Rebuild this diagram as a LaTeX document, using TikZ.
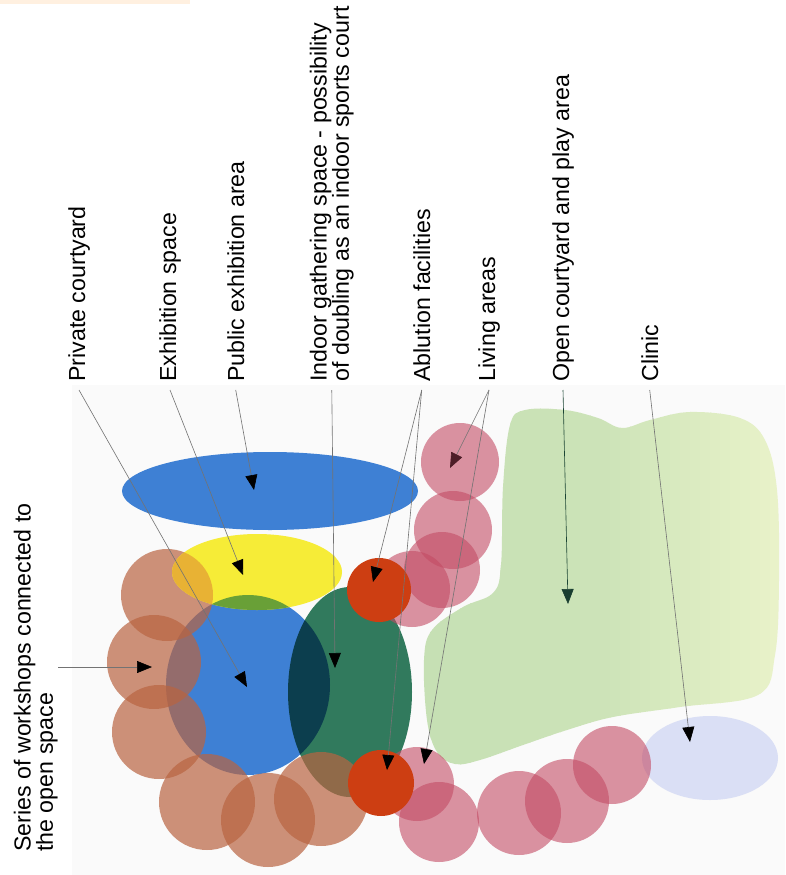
\documentclass[tikz,border=0pt]{standalone}
\usepackage{fontspec}
\setmainfont{Liberation Sans}
\usepackage{tikz}
\usetikzlibrary{positioning,arrows.meta,calc}
\usepackage{xcolor}

\definecolor{zoneblue}{RGB}{62,128,212}
\definecolor{zoneyellow}{RGB}{246,236,55}
\definecolor{zonelens}{RGB}{105,160,55}
\definecolor{zoneamber}{RGB}{232,178,52}
\definecolor{zonegreen}{RGB}{50,125,95}
\definecolor{zonebrown}{RGB}{185,100,65}
\definecolor{zonepink}{RGB}{195,75,100}
\definecolor{zoneorange}{RGB}{205,62,18}
\definecolor{zoneclinic}{RGB}{218,223,245}
\definecolor{courtleft}{RGB}{198,224,180}
\definecolor{courtright}{RGB}{234,243,202}

\begin{document}
\begin{tikzpicture}[
    x=0.02cm, y=-0.02cm,
    font=\fontsize{13.2}{12.6}\selectfont,
    tag/.style={rotate=90, inner xsep=0.16cm, inner ysep=0pt, align=left},
    lead/.style={draw=black!55, line width=0.35pt, -{Triangle[length=3mm,width=2.4mm,black]}},
    workshop/.style={fill=zonebrown, fill opacity=0.7},
    living/.style={fill=zonepink, fill opacity=0.6},
    ablution/.style={fill=zoneorange}
]
    \useasboundingbox (0,0) rectangle (785,875);

    % scanned page tint and the strip at the top
    \fill[black!2] (72,385) rectangle (785,875);
    \fill[orange!12] (0,0) rectangle (190,4);

    % Open courtyard: free shape, green fading to yellow (strips)
    \begin{scope}
        \clip plot[smooth cycle, tension=0.6] coordinates {
            (525,410) (565,410) (598,418) (622,428) (650,420) (690,412) (740,418) (765,440)
            (777,490) (779,580) (775,655) (758,695) (680,707) (613,717) (567,730) (523,745)
            (480,760) (455,764) (437,752) (427,720) (424,660) (432,630) (463,607) (493,593)
            (501,565) (503,487) (510,425)};
        \foreach \k in {0,...,36} {
            \pgfmathtruncatemacro\mix{\k<18 ? 100 - \k : 82 - (\k-18)*82/18}
            \fill[courtleft!\mix!courtright] ({420+\k*10},400) rectangle ({431+\k*10},780);
        }
    \end{scope}

    % Clinic
    \fill[zoneclinic] (710,758) ellipse [x radius=68, y radius=42];

    % Public exhibition area and private courtyard
    \fill[zoneblue] (270,491) ellipse [x radius=148, y radius=39];
    \fill[zoneblue] (248,685) ellipse [x radius=82, y radius=90];

    % Indoor gathering space
    \fill[zonegreen, blend mode=multiply] (350,692) ellipse [x radius=62, y radius=105];

    % Workshops round the courtyard
    \fill[workshop] (167,595) circle [radius=46];
    \fill[workshop] (154,662) circle [radius=47];
    \fill[workshop] (159,732) circle [radius=47];
    \fill[workshop] (207,802) circle [radius=48];
    \fill[workshop] (268,820) circle [radius=47];
    \fill[workshop] (321,799) circle [radius=47];

    % Exhibition space, with its overlaps
    \fill[zoneyellow] (257,572) ellipse [x radius=85, y radius=38];
    \begin{scope}
        \clip (248,685) ellipse [x radius=82, y radius=90];
        \fill[zonelens] (257,572) ellipse [x radius=85, y radius=38];
    \end{scope}
    \begin{scope}
        \clip (167,595) circle [radius=46];
        \fill[zoneamber] (257,572) ellipse [x radius=85, y radius=38];
    \end{scope}

    % Living areas
    \fill[living] (460,462) circle [radius=39];
    \fill[living] (453,530) circle [radius=39];
    \fill[living] (442,570) circle [radius=38];
    \fill[living] (412,589) circle [radius=38];
    \fill[living] (417,784) circle [radius=37];
    \fill[living] (439,822) circle [radius=40];
    \fill[living] (519,813) circle [radius=42];
    \fill[living] (567,801) circle [radius=42];
    \fill[living] (612,765) circle [radius=39];

    % Ablution facilities
    \fill[ablution] (379,590) circle [radius=32];
    \fill[ablution] (381,783) circle [radius=33];

    % Arrow targets
    \coordinate (wkT) at (152,667);
    \coordinate (pcT) at (247,687);
    \coordinate (exT) at (243,575);
    \coordinate (peT) at (254,490);
    \coordinate (igT) at (335,668);
    \coordinate (abT1) at (373,582);
    \coordinate (abT2) at (387,770);
    \coordinate (lvT1) at (450,468);
    \coordinate (lvT2) at (424,764);
    \coordinate (ocT) at (568,604);
    \coordinate (clT) at (690,742);

    % Labels
    \node[tag, anchor=base west] (pc) at (85,390) {Private courtyard};
    \node[tag, anchor=base west] (ex) at (176,390) {Exhibition space};
    \node[tag, anchor=base west] (pe) at (244,390) {Public exhibition area};
    \node[tag, anchor=south west] (ig) at (354,390) {Indoor gathering space - possibility\\of doubling as an indoor sports court};
    \node[tag, anchor=base west] (ab) at (430,390) {Ablution facilities};
    \node[tag, anchor=base west] (lv) at (495,390) {Living areas};
    \node[tag, anchor=base west] (oc) at (569,390) {Open courtyard and play area};
    \node[tag, anchor=base west] (cl) at (658,390) {Clinic};
    \node[tag, anchor=south west] (ws) at (58,860) {Series of workshops connected to\\the open space};

    % Leaders
    \draw[lead] (ws.south |- wkT) -- (wkT);
    \draw[lead] (pc.west) -- (pcT);
    \draw[lead] (ex.west) -- (exT);
    \draw[lead] (pe.west) -- (peT);
    \draw[lead] (ig.west) -- (igT);
    \draw[lead] (ab.west) -- (abT1);
    \draw[lead] (ab.west) -- (abT2);
    \draw[lead, -{Triangle[length=3mm,width=2.4mm,black!60!zonepink]}] (lv.west) -- (lvT1);
    \draw[lead] (lv.west) -- (lvT2);
    \draw[lead, draw=black!45!zonegreen, -{Triangle[length=3mm,width=2.4mm,black!50!zonegreen]}] (oc.west) -- (ocT);
    \draw[lead] (cl.west) -- (clT);

\end{tikzpicture}
\end{document}
